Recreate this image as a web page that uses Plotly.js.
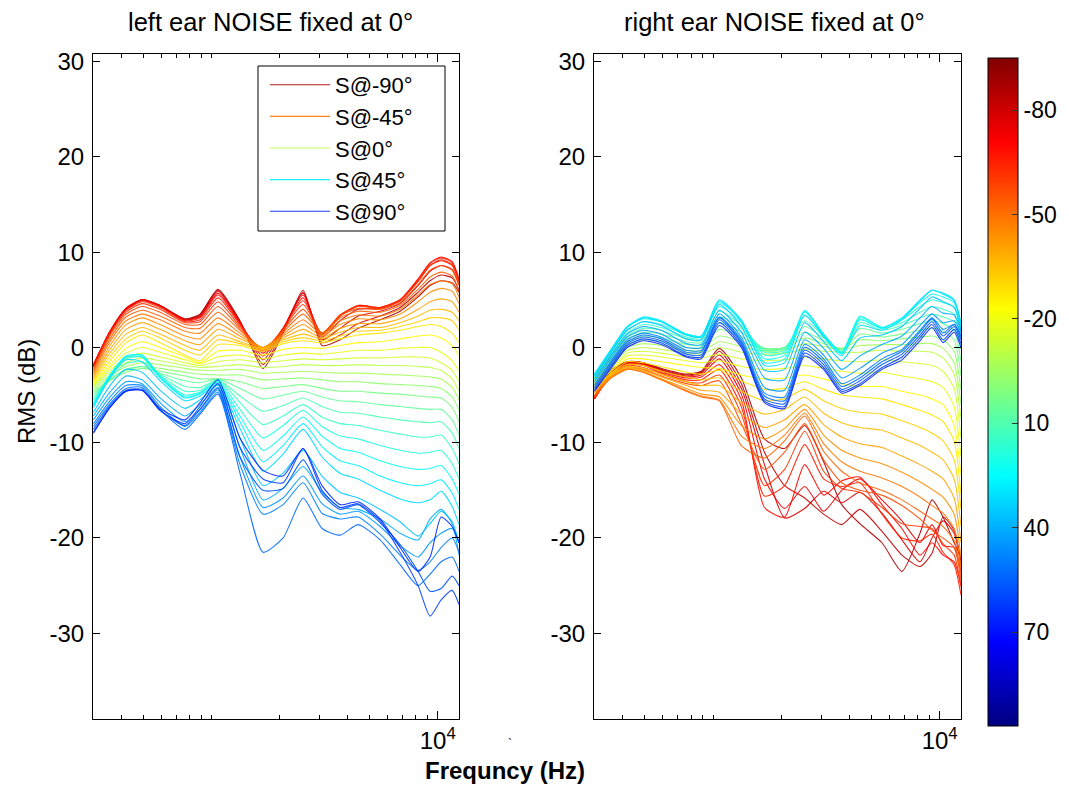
<!DOCTYPE html>
<html><head><meta charset="utf-8">
<script src="https://cdn.plot.ly/plotly-3.0.1.min.js"></script>
<style>html,body{margin:0;padding:0;background:#fff}#chart{width:1069px;height:787px}</style>
</head><body><div id="chart"></div>
<script>
// ---------------- data ----------------
const freq = [300,355,418,492,591,762,888,1066,1334,1687,2069,2537,3076,3697,4444,5563,6814,8185,9249,10350,11580,12420];
const angles = [-90,-85,-80,-75,-70,-65,-60,-55,-50,-45,-40,-35,-30,-25,-20,-15,-10,-5,0,5,10,15,20,25,30,35,40,45,50,55,60,65,70,75,80,85,90];
const legendAngles = [-90,-45,0,45,90];
const colorbarTicks = [-80,-50,-20,10,40,70];
const colorMin = -95, colorMax = 97;
const xMinorTicks = [400,500,600,700,800,900,1000,2000,3000,4000,5000,6000,7000,8000,9000];
const yTicks = [-30,-20,-10,0,10,20,30];

// left ear (RMS dB)
const left_n90 = [-2.0, 1.5, 4.0, 5.0, 4.4, 3.0, 3.5, 6.1, 2.8, -2.2, 1.5, 6.0, 0.2, 0.8, 2.0, 2.9, 3.8, 5.3, 6.5, 7.0, 6.8, 5.8];
const left_n85 = [-1.9, 1.6, 4.1, 5.0, 4.4, 2.9, 3.4, 6.0, 2.7, -1.8, 1.7, 5.8, 0.5, 1.3, 2.5, 3.3, 4.2, 5.8, 7.0, 7.6, 7.3, 6.0];
const left_n80 = [-1.8, 1.7, 4.1, 5.0, 4.4, 2.9, 3.3, 5.9, 2.7, -1.3, 1.9, 5.7, 0.8, 2.0, 3.3, 3.8, 4.6, 6.5, 8.0, 8.6, 8.2, 6.6];
const left_n75 = [-1.8, 1.7, 4.1, 5.0, 4.4, 2.9, 3.2, 5.7, 2.6, -0.9, 2.0, 5.5, 1.1, 2.8, 4.0, 4.1, 4.9, 7.0, 8.6, 9.2, 8.7, 7.0];
const left_n70 = [-1.9, 1.7, 4.0, 4.9, 4.3, 2.8, 3.1, 5.5, 2.5, -0.6, 2.0, 5.2, 1.3, 3.3, 4.4, 4.2, 5.0, 7.2, 8.9, 9.5, 9.0, 7.2];
const left_n65 = [-2.0, 1.6, 3.9, 4.8, 4.2, 2.7, 2.9, 5.2, 2.4, -0.4, 2.0, 4.9, 1.4, 3.4, 4.4, 4.2, 5.0, 7.1, 8.8, 9.4, 8.9, 7.0];
const left_n60 = [-2.1, 1.4, 3.7, 4.6, 4.0, 2.6, 2.7, 4.8, 2.2, -0.3, 1.9, 4.5, 1.5, 3.4, 4.3, 4.1, 4.9, 6.9, 8.6, 9.1, 8.6, 6.8];
const left_n55 = [-2.3, 1.2, 3.5, 4.3, 3.7, 2.4, 2.4, 4.3, 2.0, -0.2, 1.8, 4.0, 1.5, 3.3, 4.1, 4.0, 4.7, 6.6, 8.1, 8.6, 8.1, 6.5];
const left_n50 = [-2.5, 0.9, 3.2, 3.9, 3.3, 2.1, 2.0, 3.7, 1.8, -0.1, 1.6, 3.5, 1.5, 3.1, 3.8, 3.7, 4.4, 6.1, 7.4, 7.9, 7.5, 6.0];
const left_n45 = [-2.7, 0.6, 2.8, 3.5, 2.9, 1.7, 1.5, 3.1, 1.5, 0.0, 1.4, 2.9, 1.4, 2.8, 3.4, 3.3, 4.0, 5.5, 6.6, 7.0, 6.7, 5.3];
const left_n40 = [-2.9, 0.2, 2.4, 3.1, 2.4, 1.2, 0.9, 2.5, 1.2, 0.0, 1.2, 2.4, 1.2, 2.4, 3.0, 2.9, 3.5, 4.8, 5.8, 6.2, 5.9, 4.6];
const left_n35 = [-3.1, -0.2, 1.9, 2.6, 1.9, 0.7, 0.3, 1.9, 0.9, 0.0, 1.0, 1.9, 1.0, 2.0, 2.5, 2.5, 3.0, 4.0, 4.8, 5.1, 4.8, 3.7];
const left_n30 = [-3.3, -0.6, 1.4, 2.1, 1.4, 0.2, -0.3, 1.3, 0.6, -0.1, 0.8, 1.4, 0.9, 1.6, 2.1, 2.1, 2.6, 3.3, 3.9, 4.0, 3.7, 2.8];
const left_n25 = [-3.5, -1.0, 0.9, 1.7, 1.0, -0.3, -0.8, 0.8, 0.4, -0.2, 0.6, 1.0, 0.7, 1.2, 1.7, 1.8, 2.2, 2.7, 3.1, 3.1, 2.8, 1.8];
const left_n20 = [-3.6, -1.4, 0.5, 1.3, 0.5, -0.8, -1.4, 0.3, 0.2, -0.4, 0.4, 0.7, 0.5, 0.9, 1.3, 1.5, 1.8, 2.2, 2.4, 2.2, 1.5, 0.5];
const left_n15 = [-3.8, -1.8, -0.1, 0.6, 0.0, -1.0, -1.6, -0.4, -0.3, -0.8, -0.2, 0.0, -0.1, 0.2, 0.5, 0.6, 0.9, 1.2, 1.3, 1.0, 0.2, -0.9];
const left_n10 = [-3.9, -2.1, -0.6, 0.0, -0.5, -1.3, -1.7, -1.0, -0.8, -1.2, -0.8, -0.6, -0.7, -0.5, -0.3, -0.3, -0.1, 0.0, 0.0, -0.5, -1.4, -2.5];
const left_n05 = [-4.0, -2.4, -1.1, -0.6, -1.0, -1.6, -1.9, -1.5, -1.3, -1.6, -1.4, -1.2, -1.3, -1.2, -1.1, -1.1, -1.0, -1.0, -1.1, -1.6, -2.4, -3.6];
const left_000 = [-4.1, -2.7, -1.6, -1.1, -1.4, -1.9, -2.1, -2.0, -1.8, -2.1, -2.0, -1.8, -1.9, -1.9, -1.8, -1.9, -1.9, -2.0, -2.1, -2.4, -3.3, -4.6];
const left_p05 = [-4.3, -3.0, -2.0, -1.6, -1.8, -2.2, -2.4, -2.4, -2.3, -2.7, -2.6, -2.5, -2.6, -2.7, -2.7, -2.8, -2.9, -3.0, -3.1, -3.3, -4.2, -5.5];
const left_p10 = [-4.5, -3.3, -2.4, -2.0, -2.2, -2.6, -2.8, -2.9, -2.9, -3.4, -3.3, -3.2, -3.4, -3.6, -3.6, -3.8, -3.9, -4.0, -4.1, -4.3, -5.2, -6.6];
const left_p15 = [-4.7, -3.5, -2.6, -2.2, -2.5, -3.0, -3.3, -3.3, -3.6, -4.3, -4.1, -3.9, -4.3, -4.6, -4.6, -4.8, -4.9, -5.1, -5.2, -5.3, -6.3, -7.8];
const left_p20 = [-4.9, -3.4, -2.3, -2.0, -2.7, -3.5, -3.7, -3.3, -4.3, -5.4, -5.0, -4.6, -5.2, -5.6, -5.7, -6.0, -6.2, -6.4, -6.5, -6.5, -7.6, -9.2];
const left_p25 = [-5.2, -3.2, -1.7, -1.5, -2.8, -4.1, -4.2, -3.4, -5.1, -6.7, -6.1, -5.3, -6.2, -6.8, -6.9, -7.3, -7.6, -7.8, -7.9, -7.8, -9.0, -10.6];
const left_p30 = [-5.5, -3.0, -1.2, -1.0, -2.9, -4.6, -4.5, -3.4, -5.8, -8.1, -7.2, -6.0, -7.3, -8.0, -8.2, -8.7, -9.1, -9.4, -9.4, -9.2, -10.6, -12.2];
const left_p35 = [-5.8, -2.9, -1.0, -0.8, -3.0, -5.0, -4.7, -3.5, -6.5, -9.5, -8.2, -6.6, -8.3, -9.3, -9.6, -10.3, -10.8, -11.1, -11.0, -10.8, -12.2, -13.8];
const left_p40 = [-6.0, -2.9, -0.9, -0.8, -3.1, -5.2, -4.8, -3.6, -7.2, -10.8, -9.3, -7.3, -9.3, -10.6, -11.0, -11.9, -12.5, -12.8, -12.7, -12.4, -13.8, -15.4];
const left_p45 = [-6.1, -3.0, -1.0, -1.0, -3.2, -5.3, -4.9, -3.7, -7.8, -12.0, -10.3, -8.0, -10.4, -11.9, -12.4, -13.5, -14.2, -14.5, -14.3, -13.9, -15.3, -17.0];
const left_p50 = [-6.3, -3.2, -1.3, -1.5, -3.5, -5.6, -5.1, -3.9, -8.5, -13.0, -11.2, -8.6, -11.5, -13.2, -13.8, -15.0, -15.9, -16.3, -16.0, -15.1, -16.7, -18.6];
const left_p55 = [-6.8, -4.0, -2.3, -2.6, -4.5, -6.4, -5.5, -4.0, -9.5, -14.5, -13.2, -10.8, -13.5, -15.2, -15.8, -17.0, -18.3, -19.8, -18.5, -17.2, -18.3, -20.5];
const left_p60 = [-7.2, -4.7, -3.0, -3.4, -5.3, -7.2, -6.0, -4.2, -10.5, -16.0, -14.8, -12.5, -15.2, -16.8, -17.0, -18.0, -19.5, -20.2, -18.0, -17.0, -18.5, -21.8];
const left_p65 = [-7.6, -5.2, -3.6, -3.8, -5.8, -7.8, -6.5, -4.5, -11.5, -16.8, -15.8, -13.5, -16.4, -17.5, -17.2, -18.8, -20.8, -22.0, -20.5, -19.5, -19.0, -20.5];
const left_p70 = [-8.0, -5.6, -4.0, -4.0, -6.2, -8.3, -6.8, -4.7, -12.3, -17.5, -16.5, -14.2, -17.4, -18.0, -17.8, -19.6, -21.8, -23.4, -22.5, -21.0, -20.0, -21.5];
const left_p75 = [-8.3, -5.9, -4.3, -4.2, -6.5, -8.6, -7.0, -4.9, -13.2, -21.5, -20.0, -15.8, -19.0, -19.7, -18.6, -20.2, -22.8, -25.0, -23.8, -22.5, -22.0, -23.5];
const left_p80 = [-8.6, -6.1, -4.5, -4.4, -6.6, -8.2, -6.5, -4.3, -11.5, -15.0, -14.8, -11.8, -15.4, -17.0, -16.5, -18.4, -20.7, -23.5, -25.6, -25.3, -24.0, -25.0];
const left_p85 = [-8.9, -6.3, -4.6, -4.5, -6.6, -8.0, -6.2, -3.8, -10.5, -13.8, -14.2, -10.6, -15.0, -16.8, -16.4, -18.2, -21.5, -25.0, -28.2, -26.5, -25.5, -27.0];
const left_p90 = [-9.0, -6.3, -4.6, -4.5, -6.4, -7.6, -5.8, -3.4, -9.5, -12.9, -13.5, -10.6, -14.5, -16.5, -16.2, -18.0, -21.0, -23.5, -22.0, -17.8, -18.8, -20.5];

// right ear (RMS dB)
const right_n90 = [-5.1, -2.4, -1.5, -1.6, -2.2, -2.8, -2.5, -0.1, -3.2, -9.6, -10.6, -8.2, -12.0, -16.5, -18.5, -20.5, -23.5, -19.5, -16.0, -17.8, -20.5, -22.0];
const right_n85 = [-5.2, -2.5, -1.5, -1.6, -2.3, -2.9, -2.6, -0.4, -3.8, -11.0, -14.5, -15.8, -17.5, -18.6, -17.0, -19.3, -21.8, -23.0, -21.6, -17.8, -19.2, -22.5];
const right_n80 = [-5.3, -2.6, -1.6, -1.7, -2.4, -3.0, -2.7, -0.8, -4.3, -12.3, -17.9, -16.9, -15.1, -16.3, -15.2, -17.4, -20.2, -22.5, -20.0, -18.2, -19.5, -23.0];
const right_n75 = [-5.4, -2.7, -1.6, -1.7, -2.5, -3.1, -2.9, -1.2, -4.9, -13.8, -16.9, -14.6, -17.2, -15.0, -13.8, -16.0, -18.2, -20.5, -18.6, -20.8, -21.0, -23.5];
const right_n70 = [-5.4, -2.8, -1.7, -1.8, -2.6, -3.2, -3.1, -1.8, -5.5, -16.8, -17.8, -12.3, -15.5, -14.0, -13.6, -16.5, -19.0, -21.8, -20.5, -21.8, -22.5, -25.0];
const right_n65 = [-5.4, -2.9, -1.8, -1.9, -2.7, -3.4, -3.4, -2.3, -6.2, -15.6, -14.5, -10.2, -13.8, -14.6, -14.2, -17.5, -20.0, -20.3, -19.6, -21.5, -22.8, -26.0];
const right_n60 = [-5.3, -3.0, -1.9, -2.1, -2.8, -3.6, -3.7, -2.9, -7.0, -14.5, -12.8, -8.8, -13.0, -14.8, -15.2, -16.8, -18.5, -18.8, -19.0, -20.6, -21.8, -25.2];
const right_n55 = [-5.2, -3.1, -2.0, -2.3, -3.0, -3.8, -4.0, -3.5, -8.0, -12.8, -11.0, -8.0, -11.8, -14.2, -15.0, -15.5, -16.6, -18.0, -19.2, -20.0, -21.0, -24.5];
const right_n50 = [-5.1, -3.2, -2.3, -2.6, -3.4, -4.6, -5.2, -5.6, -10.3, -11.6, -9.8, -7.2, -10.9, -13.0, -14.2, -15.0, -16.0, -17.2, -18.0, -18.8, -20.3, -24.0];
const right_n45 = [-5.0, -3.2, -2.3, -2.6, -3.4, -4.5, -5.1, -5.5, -9.3, -10.6, -9.2, -6.9, -10.1, -12.0, -13.0, -13.7, -14.6, -15.7, -16.6, -17.4, -19.0, -23.2];
const right_n40 = [-4.8, -3.1, -2.2, -2.5, -3.3, -4.3, -4.9, -5.2, -8.2, -9.6, -8.5, -6.5, -9.2, -10.8, -11.6, -12.2, -13.1, -14.1, -14.9, -15.7, -17.5, -22.0];
const right_n35 = [-4.7, -3.0, -2.1, -2.4, -3.1, -4.0, -4.5, -4.7, -7.0, -8.4, -7.6, -6.0, -8.1, -9.4, -10.1, -10.5, -11.4, -12.3, -13.0, -13.8, -15.8, -20.5];
const right_n30 = [-4.5, -2.9, -2.0, -2.2, -2.8, -3.6, -4.0, -4.0, -5.8, -7.0, -6.5, -5.2, -6.9, -7.9, -8.4, -8.7, -9.5, -10.3, -11.0, -11.8, -13.8, -18.8];
const right_n25 = [-4.3, -2.8, -1.8, -1.9, -2.5, -3.1, -3.4, -3.2, -4.6, -5.6, -5.4, -4.4, -5.6, -6.4, -6.8, -7.0, -7.7, -8.4, -9.0, -9.8, -11.8, -17.0];
const right_n20 = [-4.2, -2.7, -1.5, -1.6, -2.0, -2.6, -2.8, -2.4, -3.5, -4.4, -4.3, -3.6, -4.4, -5.0, -5.2, -5.4, -6.0, -6.6, -7.1, -7.8, -9.8, -15.5];
const right_n15 = [-4.0, -2.5, -1.2, -1.2, -1.5, -1.9, -2.1, -2.2, -2.9, -3.3, -3.2, -2.9, -3.3, -3.8, -4.1, -4.1, -4.6, -5.0, -5.4, -6.0, -8.2, -13.5];
const right_n10 = [-3.9, -2.3, -0.9, -0.8, -1.0, -1.4, -1.6, -1.4, -2.0, -2.3, -2.2, -1.9, -2.2, -2.5, -2.7, -2.6, -3.0, -3.3, -3.6, -4.2, -6.2, -11.5];
const right_n05 = [-3.8, -2.1, -0.6, -0.4, -0.6, -1.0, -1.1, -0.7, -1.2, -1.4, -1.3, -1.0, -1.2, -1.4, -1.5, -1.3, -1.5, -1.7, -1.9, -2.5, -4.3, -9.5];
const right_000 = [-3.7, -1.9, -0.3, 0.0, -0.2, -0.6, -0.7, 0.0, -0.5, -0.7, -0.6, -0.2, -0.4, -0.5, -0.5, -0.3, -0.4, -0.4, -0.5, -1.1, -2.8, -7.5];
const right_p05 = [-3.6, -1.7, 0.0, 0.4, 0.2, -0.3, -0.4, 0.6, 0.1, -0.4, -0.3, 0.4, 0.1, -0.2, 0.2, 0.3, 0.3, 0.4, 0.4, -0.1, -1.6, -6.0];
const right_p10 = [-3.5, -1.5, 0.3, 0.8, 0.6, 0.0, -0.1, 1.2, 0.6, -0.2, -0.1, 1.0, 0.4, -0.1, 0.8, 0.7, 0.9, 1.1, 1.2, 0.8, -0.4, -4.5];
const right_p15 = [-3.4, -1.3, 0.6, 1.2, 1.0, 0.3, 0.2, 1.9, 1.1, -0.1, 0.0, 1.6, 0.7, -0.2, 1.4, 1.1, 1.4, 1.8, 2.0, 1.7, 0.8, -3.0];
const right_p20 = [-3.3, -1.1, 0.9, 1.6, 1.4, 0.6, 0.5, 2.6, 1.6, -0.1, 0.0, 2.2, 1.0, -0.3, 2.0, 1.5, 1.9, 2.5, 2.8, 2.5, 1.8, -1.5];
const right_p25 = [-3.2, -0.9, 1.2, 2.0, 1.8, 0.9, 0.7, 3.2, 2.0, -0.3, -0.1, 2.8, 1.2, -0.5, 2.6, 1.8, 2.3, 3.1, 3.5, 3.2, 2.7, -0.2];
const right_p30 = [-3.1, -0.7, 1.5, 2.4, 2.1, 1.1, 0.9, 3.8, 2.3, -0.5, -0.3, 3.3, 1.3, -0.5, 3.0, 2.0, 2.6, 3.7, 4.3, 4.0, 3.5, 0.8];
const right_p35 = [-3.0, -0.5, 1.8, 2.7, 2.4, 1.3, 1.1, 4.3, 2.6, -0.8, -0.5, 3.7, 1.4, -0.5, 3.3, 2.1, 2.9, 4.3, 5.0, 4.7, 4.2, 1.6];
const right_p40 = [-2.9, -0.3, 2.1, 3.0, 2.7, 1.4, 1.2, 4.7, 2.8, -1.2, -0.8, 3.9, 1.4, -0.6, 3.2, 2.1, 3.1, 4.7, 5.6, 5.3, 4.7, 2.2];
const right_p45 = [-2.8, -0.2, 2.2, 3.2, 2.8, 1.4, 1.2, 5.0, 2.9, -1.6, -1.2, 3.8, 1.3, -0.7, 2.9, 2.0, 3.1, 5.0, 6.0, 5.7, 5.0, 2.6];
const right_p50 = [-2.8, -0.3, 2.1, 3.1, 2.7, 1.3, 1.1, 4.9, 2.7, -1.9, -1.6, 3.4, 1.1, -0.9, 2.3, 1.8, 2.9, 4.9, 6.0, 5.6, 4.9, 2.5];
const right_p55 = [-3.0, -0.5, 1.8, 2.7, 2.3, 0.9, 0.8, 4.5, 2.2, -2.4, -2.3, 2.6, 0.6, -1.4, 1.0, 1.3, 2.2, 4.1, 5.3, 4.8, 4.2, 2.0];
const right_p60 = [-3.3, -0.8, 1.4, 2.2, 1.8, 0.4, 0.3, 3.9, 1.6, -3.2, -3.4, 1.6, -0.1, -2.3, -0.9, 0.3, 1.2, 3.1, 4.3, 3.6, 3.4, 1.8];
const right_p65 = [-3.6, -1.1, 1.1, 1.8, 1.4, 0.0, 0.0, 3.5, 1.1, -4.2, -4.5, 0.8, -0.8, -3.2, -2.2, -0.6, 0.3, 2.3, 3.5, 2.6, 2.8, 1.6];
const right_p70 = [-3.9, -1.4, 0.8, 1.5, 1.1, -0.3, -0.3, 3.2, 0.8, -4.8, -5.2, 0.3, -1.2, -3.8, -2.9, -1.2, -0.2, 1.8, 3.1, 1.9, 2.4, 1.3];
const right_p75 = [-4.1, -1.6, 0.6, 1.3, 0.9, -0.5, -0.5, 3.1, 0.6, -5.1, -5.6, 0.0, -1.5, -4.1, -3.2, -1.5, -0.4, 1.6, 3.0, 1.5, 2.4, 1.1];
const right_p80 = [-4.3, -1.8, 0.4, 1.1, 0.7, -0.7, -0.8, 2.9, 0.4, -5.4, -5.9, -0.3, -1.8, -4.4, -3.5, -1.8, -0.7, 1.3, 2.7, 1.2, 2.2, 0.8];
const right_p85 = [-4.5, -2.0, 0.2, 0.9, 0.5, -0.9, -1.0, 2.6, 0.2, -5.6, -6.2, -0.6, -2.1, -4.6, -3.8, -2.1, -1.0, 1.0, 2.4, 0.8, 1.9, 0.4];
const right_p90 = [-4.6, -2.2, 0.0, 0.7, 0.3, -1.0, -1.2, 2.3, 0.0, -5.8, -6.4, -0.9, -2.3, -4.8, -4.0, -2.3, -1.3, 0.7, 2.1, 0.5, 1.6, 0.0];

const leftLines = [left_n90,left_n85,left_n80,left_n75,left_n70,left_n65,left_n60,left_n55,left_n50,left_n45,left_n40,left_n35,left_n30,left_n25,left_n20,left_n15,left_n10,left_n05,left_000,left_p05,left_p10,left_p15,left_p20,left_p25,left_p30,left_p35,left_p40,left_p45,left_p50,left_p55,left_p60,left_p65,left_p70,left_p75,left_p80,left_p85,left_p90];
const rightLines = [right_n90,right_n85,right_n80,right_n75,right_n70,right_n65,right_n60,right_n55,right_n50,right_n45,right_n40,right_n35,right_n30,right_n25,right_n20,right_n15,right_n10,right_n05,right_000,right_p05,right_p10,right_p15,right_p20,right_p25,right_p30,right_p35,right_p40,right_p45,right_p50,right_p55,right_p60,right_p65,right_p70,right_p75,right_p80,right_p85,right_p90];

// ---------------- style ----------------
const W = 1069, H = 787;
const FONT = 'Liberation Sans, Arial, sans-serif';
const jetStops = [[0,[0,0,128]],[0.125,[0,0,255]],[0.375,[0,255,255]],[0.625,[255,255,0]],[0.875,[255,0,0]],[1,[128,0,0]]];
const jetScale = jetStops.map(s => [s[0], 'rgb(' + s[1].join(',') + ')']);
function jet(t){
  t = Math.max(0, Math.min(1, t));
  for (let i = 1; i < jetStops.length; i++){
    if (t <= jetStops[i][0]){
      const a = jetStops[i-1], b = jetStops[i];
      const f = (t - a[0]) / (b[0] - a[0]);
      const c = a[1].map((v, k) => Math.round(v + f * (b[1][k] - v)));
      return 'rgb(' + c.join(',') + ')';
    }
  }
  return 'rgb(128,0,0)';
}
// line colour position in the jet map (negative angles warm, positive cold)
const lineT = a => 0.56 - 0.0044 * a;

const traces = [];
angles.forEach((a, i) => {
  traces.push({
    type: 'scatter', mode: 'lines', x: freq, y: leftLines[i],
    xaxis: 'x', yaxis: 'y',
    name: 'S@' + a + '°', legendgroup: 'g' + a,
    showlegend: legendAngles.includes(a),
    line: {color: jet(lineT(a)), width: 1.1, shape: 'spline', smoothing: 0.6},
    opacity: 0.9, hoverinfo: 'skip'
  });
});
angles.forEach((a, i) => {
  traces.push({
    type: 'scatter', mode: 'lines', x: freq, y: rightLines[i],
    xaxis: 'x2', yaxis: 'y2', showlegend: false,
    line: {color: jet(lineT(a)), width: 1.1, shape: 'spline', smoothing: 0.6},
    opacity: 0.9, hoverinfo: 'skip'
  });
});
// colour bar carrier (points outside the visible range); axis reversed: v = -angle
traces.push({
  type: 'scatter', mode: 'markers', x: [100, 100], y: [0, 0], xaxis: 'x2', yaxis: 'y2',
  showlegend: false, hoverinfo: 'skip',
  marker: {
    size: 1, color: [-colorMax, -colorMin], cmin: -colorMax, cmax: -colorMin,
    colorscale: jetScale, showscale: true,
    colorbar: {
      x: 988 / W, xanchor: 'left', xref: 'paper', y: 1 - 58 / H, yanchor: 'top', yref: 'paper',
      len: (726 - 58) / H, lenmode: 'fraction', thickness: 30, thicknessmode: 'pixels',
      xpad: 0, ypad: 0, outlinewidth: 1, outlinecolor: '#000',
      tickmode: 'array', tickvals: colorbarTicks.map(v => -v), ticktext: colorbarTicks.map(v => String(v)),
      ticks: 'inside', ticklen: 6, tickcolor: '#333', tickfont: {family: FONT, size: 23, color: '#000'}
    }
  }
});

const xRange = [2.475, 4.094];
const yRange = [-39, 30.8];
function xAxis(domain, anchor){
  return {
    type: 'log', domain: domain, range: xRange, anchor: anchor,
    tickmode: 'array', tickvals: [10000], ticktext: ['10<sup>4</sup>'],
    ticks: 'inside', ticklen: 8, tickcolor: '#000',
    minor: {tickmode: 'array', tickvals: xMinorTicks, ticks: 'inside', ticklen: 4, tickcolor: '#000', showgrid: false},
    showline: true, linecolor: '#000', linewidth: 1, mirror: 'ticks',
    showgrid: false, zeroline: false,
    tickfont: {family: FONT, size: 24, color: '#000'}
  };
}
function yAxis(domain, anchor){
  return {
    domain: domain, range: yRange, anchor: anchor,
    tickmode: 'array', tickvals: yTicks, ticktext: yTicks.map(v => String(v)),
    ticks: 'inside', ticklen: 7, tickcolor: '#000',
    showline: true, linecolor: '#000', linewidth: 1, mirror: 'ticks',
    showgrid: false, zeroline: false, ticklabelstandoff: 3,
    tickfont: {family: FONT, size: 24, color: '#000'}
  };
}
const yDom = [1 - 719 / H, 1 - 54 / H];

const layout = {
  width: W, height: H,
  margin: {l: 0, r: 0, t: 0, b: 0},
  paper_bgcolor: '#fff', plot_bgcolor: '#fff',
  font: {family: FONT, size: 23, color: '#000'},
  xaxis: xAxis([93 / W, 459 / W], 'y'),
  yaxis: yAxis(yDom, 'x'),
  xaxis2: xAxis([594 / W, 961 / W], 'y2'),
  yaxis2: yAxis(yDom, 'x2'),
  showlegend: true,
  legend: {
    x: 265 / W, y: 1 - 64 / H, xanchor: 'left', yanchor: 'top',
    bgcolor: 'rgba(0,0,0,0)', borderwidth: 0,
    font: {family: FONT, size: 22, color: '#000'},
    traceorder: 'grouped', tracegroupgap: 0, itemwidth: 60
  },
  shapes: [
    // legend frame
    {type: 'rect', xref: 'paper', yref: 'paper', x0: 258 / W, x1: 445 / W, y0: 1 - 231 / H, y1: 1 - 66 / H,
     line: {color: '#000', width: 1}, fillcolor: '#fff', layer: 'above'}
  ],
  annotations: [
    {text: 'left ear NOISE fixed at 0°', x: 270 / W, y: 1 - 22 / H, xref: 'paper', yref: 'paper',
     xanchor: 'center', yanchor: 'middle', showarrow: false, font: {family: FONT, size: 25.5, color: '#000'}},
    {text: 'right ear NOISE fixed at 0°', x: 774 / W, y: 1 - 22 / H, xref: 'paper', yref: 'paper',
     xanchor: 'center', yanchor: 'middle', showarrow: false, font: {family: FONT, size: 25.5, color: '#000'}},
    {text: 'RMS (dB)', x: 26 / W, y: 1 - 392 / H, xref: 'paper', yref: 'paper', textangle: -90,
     xanchor: 'center', yanchor: 'middle', showarrow: false, font: {family: FONT, size: 24, color: '#000'}},
    {text: '<b>Frequncy (Hz)</b>', x: 505 / W, y: 1 - 770 / H, xref: 'paper', yref: 'paper',
     xanchor: 'center', yanchor: 'middle', showarrow: false, font: {family: FONT, size: 24, color: '#000'}},
    {text: '`', x: 510 / W, y: 1 - 744 / H, xref: 'paper', yref: 'paper',
     xanchor: 'center', yanchor: 'middle', showarrow: false, font: {family: FONT, size: 12, color: '#000'}}
  ]
};

Plotly.newPlot('chart', traces, layout, {staticPlot: true, displayModeBar: false});
</script>
</body></html>
